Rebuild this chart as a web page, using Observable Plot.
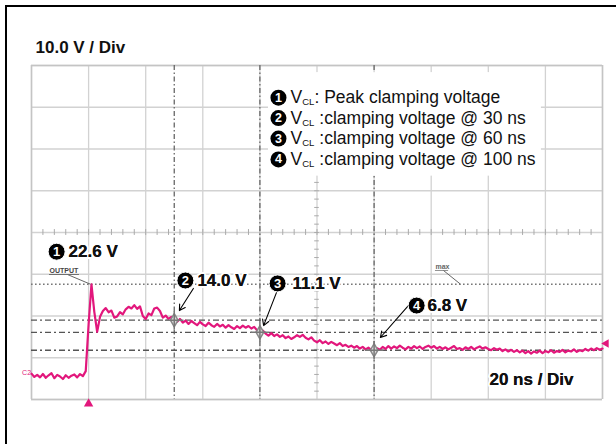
<!DOCTYPE html>
<html><head><meta charset="utf-8">
<script src="https://cdn.jsdelivr.net/npm/d3@7"></script>
<script src="https://cdn.jsdelivr.net/npm/@observablehq/plot@0.6"></script>
<style>
html,body{margin:0;padding:0;background:#fff;}
#wrap{position:relative;width:616px;height:444px;overflow:hidden;background:#fff;}
#frame{position:absolute;left:5px;top:5px;width:640px;height:480px;border:2px solid #000;box-sizing:border-box;pointer-events:none;}
</style></head><body><div id="wrap"><div id="chart"></div><div id="frame"></div></div>
<script>
// ---- data ----
const traceStart = -20;          // ns
const traceStep = 1;             // ns per sample
const traceVolts = [
  1.2,0.4,0.9,0.3,1.1,0.2,0.8,1.3,0.1,0.9, 0.5,-0.1,0.8,0.2,0.7,1.0,0.3,1.1,0.6,1.8,
  13.0,22.6,16.0,11.2,14.8,
  16.2,16.9,15.9,16.3,14.6,14.9,15.9,15.4,16.6,17.2,
  16.8,17.6,16.7,17.3,15.0,14.3,15.6,15.2,16.8,17.0,
  16.2,14.6,15.1,14.3,14.8,14.0,13.6,14.3,13.4,13.9,
  13.1,13.8,13.3,12.8,13.6,13.0,12.6,13.4,12.8,12.4,
  13.1,12.5,12.9,12.2,12.8,12.3,11.9,12.6,12.1,12.7,
  12.2,12.6,12.0,12.4,11.6,11.1,11.5,10.8,10.3,10.9,
  10.2,10.6,10.0,10.4,9.7,10.1,9.5,9.9,10.4,10.0,
  10.5,9.8,9.4,9.9,9.1,8.7,9.2,8.5,8.9,8.3,
  8.8,8.4,8.0,8.5,7.8,8.1,7.6,7.9,7.4,7.8,
  7.2,7.6,7.0,7.4,6.9,6.8,7.3,6.9,7.6,7.1,
  7.8,7.2,7.7,7.3,7.9,7.4,7.0,7.6,7.2,7.8,
  7.3,7.7,7.1,7.6,7.9,7.4,7.8,7.2,7.6,7.1,
  7.5,7.0,7.4,7.8,7.1,7.3,6.9,7.5,7.1,7.6,
  7.0,7.4,7.7,7.2,7.5,7.1,6.8,7.3,6.9,7.2,
  6.6,7.0,6.5,6.9,6.4,6.8,6.3,6.7,6.1,6.6,
  6.0,6.5,6.2,6.7,6.1,6.6,6.3,6.8,6.2,6.6,
  6.4,6.9,6.3,6.7,6.5,7.0,6.4,6.8,6.6,7.1,
  6.7,7.2,6.8,7.3,6.9,7.2
];
const peakTime = 1;
const peakVolt = 22.6;
const clampTimes = [30, 60, 100];
const clampVolts = [14.0, 11.1, 6.8];
const calloutNumbers = ["1", "2", "3", "4"];
const calloutLabels = ["22.6 V", "14.0 V", "11.1 V", "6.8 V"];
const legendNumbers = ["1", "2", "3", "4"];
const legendMain = ["V", "V", "V", "V"];
const legendSub = ["CL", "CL", "CL", "CL"];
const legendRest = [": Peak clamping voltage", " :clamping voltage @ 30 ns", " :clamping voltage @ 60 ns", " :clamping voltage @ 100 ns"];
const gridTimes = [-20, 0, 20, 40, 60, 80, 100, 120, 140, 160, 180];
const gridVolts = [-5, 5, 15, 25, 35, 45, 55, 65, 75];
const minorTimes = d3.range(-20, 181, 4);
const minorVolts = d3.range(-5, 76, 2);
const voltTitle = "10.0 V / Div";
const timeTitle = "20 ns / Div";
const channelName = "C2";
const outputName = "OUTPUT";
const maxName = "max";

// annotation anchor positions (data units: ns, V)
const calloutT = [-11.2, 33.9, 66.2, 114.9];
const calloutV = [30.4, 23.5, 22.8, 17.5];
const calloutLabelT = [-7.0, 38.1, 71.4, 118.7];
const arrowFrom = [[36.7, 21.6], [65.8, 20.6], [112.0, 17.5]];
const arrowTo = [[31.8, 16.3], [61.3, 12.7], [102.2, 9.85]];
const legendT = 66.5;
const legendV = [67.3, 62.4, 57.5, 52.5];

// ---- tables ----
const trace = traceVolts.map((v, i) => ({t: traceStart + i * traceStep, v}));
const clamps = clampTimes.map((t, i) => ({t, v: clampVolts[i]}));
const callouts = calloutLabels.map((label, i) => ({label, n: calloutNumbers[i], t: calloutT[i], v: calloutV[i], lt: calloutLabelT[i]}));
const arrows = arrowFrom.map((a, i) => ({x1: a[0], y1: a[1], x2: arrowTo[i][0], y2: arrowTo[i][1]}));
const legend = legendRest.map((rest, i) => ({n: legendNumbers[i], main: legendMain[i], sub: legendSub[i], rest, v: legendV[i]}));

const pink = "#e2177c";
const FONT = "'Liberation Sans', Arial, Helvetica, sans-serif";

const chart = Plot.plot({
  width: 616, height: 444,
  marginLeft: 31, marginRight: 14, marginTop: 65, marginBottom: 45,
  x: {domain: [-20, 180], axis: null},
  y: {domain: [-5, 75], axis: null},
  style: {fontFamily: FONT, background: "transparent", overflow: "visible"},
  marks: [
    // grid
    Plot.ruleX(gridTimes, {x: d => d, stroke: "#d2d2d2", strokeWidth: 1.3}),
    Plot.ruleY(gridVolts, {y: d => d, stroke: "#d2d2d2", strokeWidth: 1.3}),
    Plot.ruleX(minorTimes, {x: d => d, y1: 34.3, y2: 35.7, stroke: "#aaa", strokeWidth: 1}),
    Plot.ruleY(minorVolts, {y: d => d, x1: 79.2, x2: 80.8, stroke: "#aaa", strokeWidth: 1}),
    Plot.ruleY([-5, 75], {y: d => d, stroke: "#c4c4c4", strokeWidth: 1.5}),
    Plot.ruleX([-20, 180], {x: d => d, stroke: "#c4c4c4", strokeWidth: 1.5}),
    // cursors
    Plot.ruleX(clampTimes, {x: d => d, stroke: "#666", strokeWidth: 1.3, strokeDasharray: "5,2.5,1.5,2.5"}),
    Plot.ruleY(clampVolts, {y: d => d, stroke: "#555", strokeWidth: 1.3, strokeDasharray: "6,3,2,3"}),
    Plot.ruleY([peakVolt], {y: d => d, stroke: "#777", strokeWidth: 1.6, strokeDasharray: "1.6,2.4"}),
    // trace
    Plot.line(trace, {x: "t", y: "v", stroke: pink, strokeWidth: 2.2, strokeLinejoin: "round"}),
    // cursor markers
    Plot.dot(clamps, {x: "t", y: "v", symbol: "diamond", r: 4, stroke: "#888", strokeWidth: 1.5, fill: "#ddd"}),
    Plot.dot(clamps, {x: "t", y: "v", symbol: "plus", r: 6, stroke: "#777", strokeWidth: 1.5}),
    // legend box
    Plot.rect([0], {x1: 63, x2: 158.6, y1: 48.5, y2: 73.3, fill: "white"}),
    Plot.dot(legend, {x: legendT, y: "v", r: 8, fill: "black"}),
    Plot.text(legend, {x: legendT, y: "v", text: "n", fill: "white", fontWeight: "bold", fontSize: 12.5}),
    Plot.text(legend, {x: legendT, y: "v", text: "main", dx: 12, textAnchor: "start", fontSize: 17.5, fill: "#111"}),
    Plot.text(legend, {x: legendT, y: "v", text: "sub", dx: 23.7, dy: 4.5, textAnchor: "start", fontSize: 9.5, fill: "#111"}),
    Plot.text(legend, {x: legendT, y: "v", text: "rest", dx: 36, textAnchor: "start", fontSize: 17.5, fill: "#111"}),
    // OUTPUT / max labels
    Plot.text([outputName], {x: -13.7, y: 25.8, text: d => d, textAnchor: "start", fontSize: 7, fontWeight: "bold", fill: "#444"}),
    Plot.ruleY([24.94], {y: d => d, x1: -13.7, x2: -3.2, stroke: "#555", strokeWidth: 0.8}),
    Plot.link([0], {x1: -7.4, y1: 24.94, x2: peakTime - 0.3, y2: peakVolt, stroke: "#666", strokeWidth: 1}),
    Plot.text([maxName], {x: 121.5, y: 26.7, text: d => d, textAnchor: "start", fontSize: 7, fontWeight: "bold", fill: "#666"}),
    Plot.ruleY([25.9], {y: d => d, x1: 121.5, x2: 126.1, stroke: "#777", strokeWidth: 0.8}),
    Plot.link([0], {x1: 124.3, y1: 25.9, x2: 130.3, y2: peakVolt, stroke: "#666", strokeWidth: 1}),
    // arrows
    Plot.arrow(arrows, {x1: "x1", y1: "y1", x2: "x2", y2: "y2", stroke: "black", strokeWidth: 1.1, headLength: 9}),
    // callouts
    Plot.text(callouts, {x: "lt", y: "v", text: "label", textAnchor: "start", fontSize: 17, fontWeight: "bold", fill: "#111", stroke: "white", strokeWidth: 4}),
    Plot.text(callouts, {x: "lt", y: "v", text: "label", textAnchor: "start", fontSize: 17, fontWeight: "bold", fill: "#111"}),
    Plot.dot(callouts, {x: "t", y: "v", r: 8.5, fill: "black", stroke: "white", strokeWidth: 1}),
    Plot.text(callouts, {x: "t", y: "v", text: "n", fill: "white", fontWeight: "bold", fontSize: 13}),
    // titles
    Plot.text([voltTitle], {x: -18.6, y: 79.3, text: d => d, textAnchor: "start", fontSize: 17, fontWeight: "bold", fill: "#111"}),
    Plot.text([timeTitle], {x: 140.4, y: -0.33, text: d => d, textAnchor: "start", fontSize: 17, fontWeight: "bold", fill: "#111", stroke: "white", strokeWidth: 4}),
    Plot.text([timeTitle], {x: 140.4, y: -0.33, text: d => d, textAnchor: "start", fontSize: 17, fontWeight: "bold", fill: "#111"}),
    // channel markers
    Plot.text([channelName], {x: -23.3, y: 1.5, text: d => d, textAnchor: "start", fontSize: 7, fill: pink}),
    Plot.dot([0], {x: 0, y: -6.0, symbol: "triangle", r: 3.5, fill: pink}),
    Plot.dot([0], {x: 181.3, y: 8.4, symbol: "triangle", r: 3.2, fill: pink, rotate: -90})
  ]
});
document.getElementById("chart").appendChild(chart);
</script></body></html>
